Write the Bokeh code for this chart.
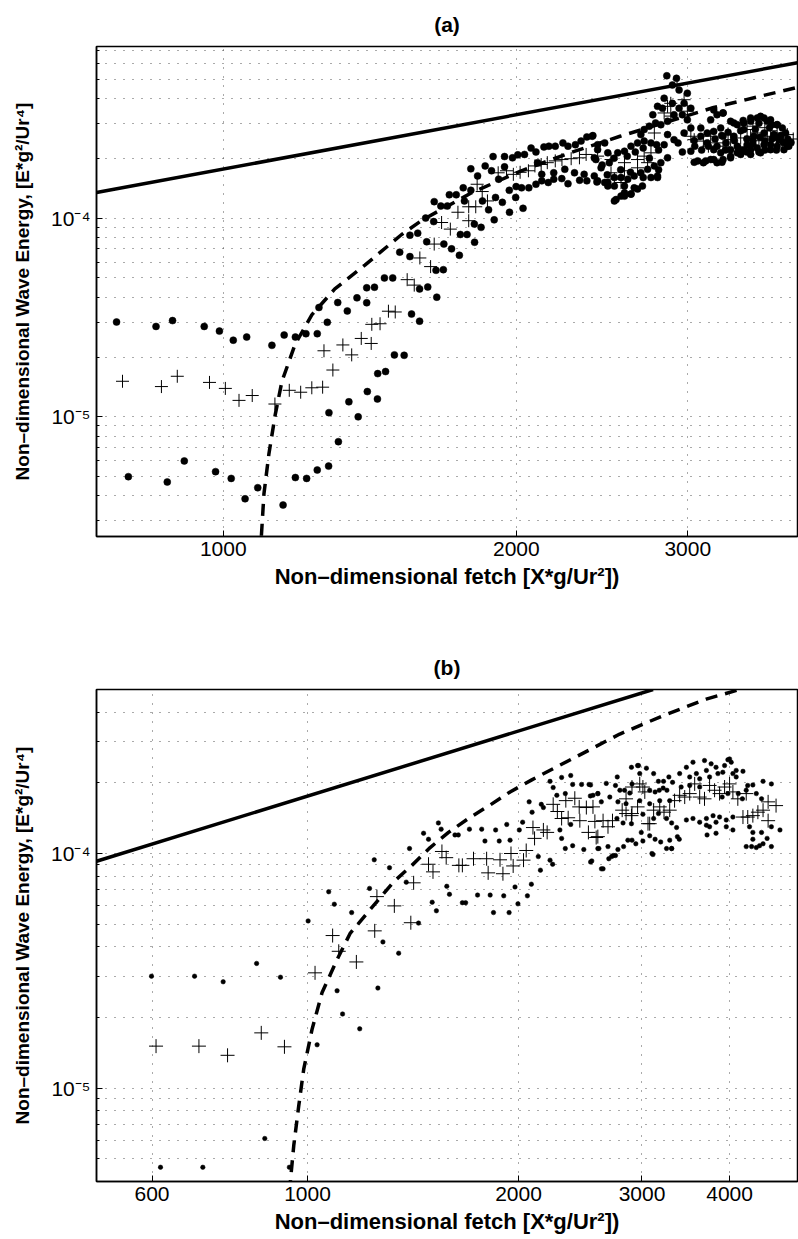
from bokeh.plotting import figure
from bokeh.layouts import column
from bokeh.models import FixedTicker
from bokeh.embed import file_html
from bokeh.resources import INLINE

# ---------------- Panel (a) data ----------------
a_dot_x = [777, 853, 887, 956, 991, 1024, 1057, 1122, 1155, 1186, 1216, 1249, 1254, 1279, 1311, 1341, 1372, 1404, 1404, 1430,
           799, 876, 912, 982, 1019, 1053, 1085, 1152, 1186, 1218, 1249, 1283, 1313, 1284, 1346, 1376, 1406, 1440, 1441, 1468, 1499, 1534,
           1893, 1945, 1982, 2007, 2039, 2071, 2095, 2135, 2160, 2193, 2233, 2260, 2300, 2331, 2363, 2393, 2424,
           1796, 1858, 1886, 1945, 1825, 1918,
           1764, 1796, 1846, 1873, 1904, 1935, 1967, 1999, 2025, 2060, 2095, 2124, 2157, 2185, 2227, 2260, 2323, 2363, 2420,
           2103, 2124, 2185, 2243, 2295, 2348, 2405,
           1647, 1673, 1699, 1707, 1735, 1769,
           1752, 1780, 1811, 1840, 1812, 1898, 1968, 2032, 1997,
           1518, 1555, 1555, 1584, 1614, 1645, 1618, 1685, 1716, 1748, 1654, 1683, 1464, 1493, 1591, 1622, 1657, 1561, 1591,
           2397, 2465, 2424, 2483, 2414, 2444, 2405, 2492, 2542, 2583, 2623, 2664, 2706, 2750, 2787, 2860, 2815, 2772, 2728, 2685,
           2643, 2603, 2562, 2522, 2483, 2424, 2522, 2583, 2643, 2695, 2750, 2793, 2532, 2583, 2623, 2664,
           2855, 2921, 2893, 2939, 2997, 2837, 2793, 2762, 2826, 2893, 2939, 2974, 3022, 2780, 2739, 2706, 2685, 2815, 2860, 2904,
           2962, 2997, 3022, 2974, 2904, 2860, 2837, 2932, 3046, 3094, 3141, 3190, 3243, 3094, 3167, 3215, 3261, 3320, 3373, 3425,
           3481, 3536, 3593, 3649, 3706, 3752, 3781, 3810, 3766, 3706, 3649, 3593, 3536, 3481, 3425, 3373, 3320, 3261, 3215, 3167,
           3130, 3071, 3022, 2962, 3141, 3215, 3285, 3346, 3425, 3508, 3593, 3678, 3722, 3373, 3452, 3261, 3190, 3243, 3320,
           2522, 2562, 2623, 3046, 3113, 3190, 3253, 3320, 3400, 3481, 3564, 3649, 3796, 3736,
           3481, 3564, 3620, 3706, 3346, 3261, 3190, 2465, 2483, 2583, 2793,
           3300, 3350, 3400, 3450, 3500, 3520, 3560, 3600, 3640, 3660, 3700, 3740, 3760, 3800, 3830, 3420, 3550, 3660, 3200, 3250,
           3150, 3100, 3050, 3280, 3380, 3500, 3600, 3700, 3450, 3550,
           2450, 2520, 2600, 2650, 2700, 2560, 2620, 2480, 2700, 2800, 2740, 2800]
a_dot_e = [3.0e-5, 2.85e-5, 3.05e-5, 2.85e-5, 2.70e-5, 2.43e-5, 2.52e-5, 2.29e-5, 2.58e-5, 2.52e-5, 2.62e-5, 2.62e-5, 3.55e-5, 2.99e-5, 3.76e-5, 3.41e-5, 3.97e-5, 3.75e-5, 4.46e-5, 4.49e-5,
           5.0e-6, 4.7e-6, 6.0e-6, 5.3e-6, 4.9e-6, 3.87e-6, 4.4e-6, 3.6e-6, 4.95e-6, 4.9e-6, 5.4e-6, 5.65e-6, 7.5e-6, 1.05e-5, 1.19e-5, 1.0e-5, 1.34e-5, 1.23e-5, 1.65e-5, 1.69e-5, 2.05e-5, 2.04e-5,
           2.04e-4, 2.04e-4, 2.01e-4, 2.08e-4, 2.09e-4, 2.25e-4, 2.15e-4, 2.28e-4, 2.30e-4, 2.30e-4, 2.39e-4, 2.30e-4, 2.34e-4, 2.44e-4, 2.56e-4, 2.58e-4, 2.34e-4,
           1.77e-4, 1.83e-4, 1.73e-4, 1.81e-4, 1.63e-4, 1.57e-4,
           1.42e-4, 1.38e-4, 1.22e-4, 1.10e-4, 1.27e-4, 1.20e-4, 1.38e-4, 1.44e-4, 1.42e-4, 1.42e-4, 1.48e-4, 1.54e-4, 1.51e-4, 1.57e-4, 1.58e-4, 1.49e-4, 1.55e-4, 1.54e-4, 1.52e-4,
           1.90e-4, 1.66e-4, 1.69e-4, 1.76e-4, 1.69e-4, 1.66e-4, 2.01e-4,
           1.21e-4, 1.15e-4, 1.15e-4, 1.31e-4, 1.31e-4, 1.22e-4,
           8.27e-5, 8.27e-5, 9.33e-5, 8.98e-5, 7.56e-5, 9.8e-5, 1.07e-4, 1.12e-4, 1.27e-4,
           6.74e-5, 6.4e-5, 8.2e-5, 8.4e-5, 1.0e-4, 9.6e-5, 7.6e-5, 7.4e-5, 7.0e-5, 6.5e-5, 5.46e-5, 5.5e-5, 5.0e-5, 5.0e-5, 4.4e-5, 4.5e-5, 4.0e-5, 3.29e-5, 3.03e-5,
           2.60e-4, 2.39e-4, 2.21e-4, 2.13e-4, 1.97e-4, 1.79e-4, 1.63e-4, 1.90e-4, 2.13e-4, 2.17e-4, 2.30e-4, 2.39e-4, 2.44e-4, 2.39e-4, 2.34e-4, 2.01e-4, 1.90e-4, 1.83e-4, 1.76e-4, 1.69e-4,
           1.63e-4, 1.57e-4, 1.60e-4, 1.60e-4, 1.51e-4, 1.54e-4, 1.45e-4, 1.45e-4, 1.42e-4, 1.45e-4, 1.60e-4, 1.60e-4, 1.24e-4, 1.29e-4, 1.32e-4, 1.40e-4,
           5.2e-4, 5.05e-4, 4.67e-4, 4.41e-4, 4.25e-4, 4.01e-4, 3.65e-4, 3.31e-4, 3.57e-4, 3.78e-4, 3.57e-4, 3.78e-4, 3.57e-4, 3.01e-4, 2.9e-4, 2.79e-4, 2.63e-4, 2.95e-4, 3.07e-4, 3.31e-4,
           3.31e-4, 3.12e-4, 2.84e-4, 2.68e-4, 2.48e-4, 2.63e-4, 2.34e-4, 2.39e-4, 2.46e-4, 2.58e-4, 2.68e-4, 2.73e-4, 2.84e-4, 2.84e-4, 3.12e-4, 3.31e-4, 3.38e-4, 3.07e-4, 2.95e-4, 3.01e-4,
           3.07e-4, 3.19e-4, 3.19e-4, 3.12e-4, 2.95e-4, 2.84e-4, 2.68e-4, 2.30e-4, 2.21e-4, 2.30e-4, 2.34e-4, 2.34e-4, 2.25e-4, 2.21e-4, 2.21e-4, 2.13e-4, 2.01e-4, 1.97e-4, 1.90e-4, 1.97e-4,
           1.94e-4, 1.94e-4, 2.17e-4, 2.15e-4, 2.39e-4, 2.30e-4, 2.39e-4, 2.58e-4, 2.79e-4, 2.58e-4, 2.68e-4, 2.63e-4, 2.48e-4, 2.30e-4, 2.34e-4, 2.58e-4, 2.21e-4, 2.13e-4, 2.21e-4,
           1.22e-4, 1.29e-4, 1.32e-4, 1.91e-4, 1.90e-4, 1.97e-4, 1.91e-4, 2.05e-4, 2.09e-4, 2.09e-4, 2.13e-4, 2.21e-4, 2.30e-4, 2.48e-4,
           3.19e-4, 3.25e-4, 3.07e-4, 2.95e-4, 3.01e-4, 3.38e-4, 3.5e-4, 1.51e-4, 1.45e-4, 1.34e-4, 1.63e-4,
           2.7e-4, 2.45e-4, 2.75e-4, 2.5e-4, 2.45e-4, 2.8e-4, 2.55e-4, 2.45e-4, 2.85e-4, 2.5e-4, 2.55e-4, 2.6e-4, 2.4e-4, 2.5e-4, 2.4e-4, 3.1e-4, 3.0e-4, 2.95e-4, 2.5e-4, 2.6e-4,
           2.3e-4, 2.2e-4, 2.3e-4, 2.2e-4, 2.25e-4, 2.35e-4, 2.2e-4, 2.2e-4, 2.15e-4, 2.15e-4,
           1.85e-4, 2.0e-4, 2.05e-4, 2.15e-4, 2.25e-4, 1.75e-4, 1.7e-4, 1.65e-4, 1.6e-4, 1.75e-4, 2.0e-4, 2.2e-4]

a_plus_x = [788, 864, 897, 968, 1005, 1038, 1071, 1130, 1169, 1201, 1233, 1265, 1296, 1269, 1327, 1355, 1386, 1419, 1421, 1449, 1478, 1502,
            1823, 1845, 1868, 1916, 1954, 1986, 2018, 2058, 2090, 2121, 2152, 2193, 2228, 2277, 2322, 2359, 1742, 1787, 1817, 1676, 1711,
            1787, 1647, 1592, 1633, 1545, 1571,
            2424, 2502, 2583, 2664, 2706, 2750, 2502, 2583, 2664, 2728, 2860, 2882, 2997, 3022, 3113, 3215, 3320, 3400, 3481, 3536,
            3621, 3706, 3796, 3452, 3167, 3261, 2522, 2562, 2772, 2837, 2882, 2925, 2974, 3046,
            3150, 3300, 3550, 3650, 3750, 3850, 3600, 3500]
a_plus_e = [1.51e-5, 1.42e-5, 1.6e-5, 1.49e-5, 1.39e-5, 1.21e-5, 1.28e-5, 1.16e-5, 1.36e-5, 1.33e-5, 1.40e-5, 1.41e-5, 1.72e-5, 2.15e-5, 2.3e-5, 2.05e-5, 2.48e-5, 2.34e-5, 2.92e-5, 2.94e-5, 3.4e-5, 3.37e-5,
            1.48e-4, 1.36e-4, 1.22e-4, 1.69e-4, 1.73e-4, 1.66e-4, 1.70e-4, 1.73e-4, 1.83e-4, 1.86e-4, 1.90e-4, 1.94e-4, 1.97e-4, 1.99e-4, 2.01e-4, 2.09e-4, 1.07e-4, 1.14e-4, 1.14e-4, 9.5e-5, 8.8e-5,
            9.7e-5, 7.4e-5, 6.3e-5, 5.7e-5, 4.9e-5, 4.6e-5,
            2.05e-4, 1.97e-4, 1.90e-4, 1.97e-4, 2.05e-4, 2.13e-4, 1.69e-4, 1.73e-4, 1.79e-4, 1.90e-4, 3.65e-4, 3.26e-4, 3.45e-4, 2.58e-4, 2.44e-4, 2.39e-4, 2.48e-4, 2.53e-4, 2.58e-4, 2.68e-4,
            2.58e-4, 2.68e-4, 2.63e-4, 2.79e-4, 2.58e-4, 2.30e-4, 1.57e-4, 1.51e-4, 2.68e-4, 3.38e-4, 3.78e-4, 4.67e-4, 3.94e-4, 2.48e-4,
            2.30e-4, 2.65e-4, 2.45e-4, 2.75e-4, 2.40e-4, 2.50e-4, 2.85e-4, 2.90e-4]

a_solid_x = [741, 3889]
a_solid_e = [1.344e-4, 6.05e-4]
a_dash_x = [1082, 1101, 1114, 1131, 1149, 1185, 1233, 1302, 1398, 1525, 1599, 1799, 2024, 2277, 2556, 3190, 3589, 3890]
a_dash_e = [1.0e-6, 4.09e-6, 6.5e-6, 1.03e-5, 1.51e-5, 2.31e-5, 3.26e-5, 4.4e-5, 5.8e-5, 8.27e-5, 9.74e-5, 1.34e-4, 1.73e-4, 2.14e-4, 2.58e-4, 3.6e-4, 4.14e-4, 4.55e-4]

a_xticks = [1000, 2000, 3000]
a_xlabels = ["1000", "2000", "3000"]
a_yticks = [1e-5, 1e-4]
a_ylabels = ["10\u207b\u2075", "10\u207b\u2074"]
a_yminor = [3e-6, 4e-6, 5e-6, 6e-6, 7e-6, 8e-6, 9e-6, 2e-5, 3e-5, 4e-5, 5e-5, 6e-5, 7e-5, 8e-5, 9e-5,
            2e-4, 3e-4, 4e-4, 5e-4, 6e-4, 7e-4]

# ---------------- Panel (b) data ----------------
b_dot_x = [599, 690, 758, 846, 915, 617, 709, 869, 942, 1032, 1102, 1122, 1187, 1260, 1281, 1349,
           1002, 1072, 1092, 1156, 1226, 1245, 1309,
           1383, 1398, 1464, 1488, 1537, 1551, 1623, 1641, 1702, 1772, 1791, 1855, 1877, 1924, 1945, 2005, 2027, 2071, 2091, 2155,
           2170, 2218, 2241, 2304, 2374, 2389, 2460, 2521, 2532, 2595, 2332, 2268, 2374, 2291, 2304, 2332, 2389, 2478, 2595, 2544,
           2218, 2237, 2149, 2134, 1580, 1594, 1506, 1527, 1663, 1681, 1748, 1822, 1905, 1842, 1939, 1977, 1996, 2059, 2086, 1440,
           2898, 2966, 3044, 2978, 3117, 2766, 2668, 2750, 2534, 2790, 2833, 2903, 2882, 3077, 3132, 3166, 3220, 3175, 3216, 3256,
           3277, 3395, 3471, 3547, 3684, 3765, 3826, 3935, 3978, 4022, 4088, 4180, 3587, 3707, 3850, 3912, 4044, 3509, 3626, 3746,
           4088, 4246, 4318, 4465, 4589, 4367, 4443, 4172, 4225, 4116, 3978, 3904, 3626, 3509, 3412, 3317, 2554, 2595, 2625, 2699,
           2772, 2847, 2978, 3077, 3180, 3286, 2763, 2819, 2898, 3009, 3117, 3167, 3252, 3307, 3361, 3471, 3547, 3626, 3707, 3789,
           3871, 3957, 4044, 3707, 3746, 3826, 3715, 3826, 3957, 4044, 4271, 4318, 4443, 4589, 4720, 4525, 4318, 4225, 4300, 4367,
           4414, 4465, 4589, 3077, 3132, 3190, 3286, 3370, 3391, 3252, 3307, 2903, 2940, 2864, 2824, 2772, 3009, 2683, 2604, 3110,
           2715, 2750, 2640, 2534, 2993, 2957, 4000, 2626, 2730, 2690, 3100, 3307]
b_dot_e = [3.0e-5, 3.0e-5, 2.84e-5, 3.4e-5, 2.97e-5, 4.6e-6, 4.6e-6, 6.1e-6, 4.6e-6, 1.53e-5, 2.6e-5, 2.07e-5, 1.79e-5, 2.67e-5, 4.2e-5, 3.76e-5,
           5.16e-5, 6.87e-5, 6.08e-5, 5.6e-5, 7.1e-5, 9.4e-5, 8.7e-5,
           7.55e-5, 1.05e-4, 1.22e-4, 1.15e-4, 1.35e-4, 1.27e-4, 1.20e-4, 1.20e-4, 1.27e-4, 1.27e-4, 1.13e-4, 1.26e-4, 1.13e-4, 1.33e-4, 1.14e-4, 1.26e-4, 1.36e-4, 1.66e-4, 1.50e-4, 1.62e-4,
           1.57e-4, 2.03e-4, 1.91e-4, 2.11e-4, 2.15e-4, 1.97e-4, 1.97e-4, 1.97e-4, 1.76e-4, 1.80e-4, 1.80e-4, 1.77e-4, 1.33e-4, 1.26e-4, 1.16e-4, 1.05e-4, 1.08e-4, 1.04e-4, 1.05e-4, 9.3e-5,
           9.37e-5, 9.0e-5, 8.49e-5, 9.7e-5, 7.25e-5, 6.7e-5, 6.2e-5, 5.7e-5, 6.17e-5, 6.17e-5, 6.65e-5, 6.65e-5, 6.6e-5, 5.6e-5, 5.6e-5, 7.2e-5, 6.1e-5, 6.6e-5, 7.4e-5, 5.05e-5,
           2.33e-4, 2.37e-4, 2.31e-4, 2.19e-4, 2.19e-4, 2.12e-4, 1.99e-4, 1.95e-4, 1.96e-4, 1.86e-4, 1.86e-4, 1.98e-4, 1.81e-4, 1.86e-4, 1.83e-4, 2.03e-4, 2.03e-4, 1.86e-4, 1.9e-4, 1.86e-4,
           2.12e-4, 2.19e-4, 2.33e-4, 2.45e-4, 2.49e-4, 2.41e-4, 2.33e-4, 2.37e-4, 2.51e-4, 2.45e-4, 2.26e-4, 2.24e-4, 2.19e-4, 2.26e-4, 2.19e-4, 2.22e-4, 2.19e-4, 2.12e-4, 2.08e-4, 2.12e-4,
           2.12e-4, 1.95e-4, 1.96e-4, 2.03e-4, 1.98e-4, 1.80e-4, 1.71e-4, 1.71e-4, 1.86e-4, 1.80e-4, 1.80e-4, 1.74e-4, 1.92e-4, 1.95e-4, 1.92e-4, 2.01e-4, 1.77e-4, 1.80e-4, 1.66e-4, 1.74e-4,
           1.66e-4, 1.63e-4, 1.68e-4, 1.63e-4, 1.68e-4, 1.68e-4, 1.41e-4, 1.35e-4, 1.34e-4, 1.47e-4, 1.41e-4, 1.48e-4, 1.41e-4, 1.35e-4, 1.29e-4, 1.39e-4, 1.41e-4, 1.36e-4, 1.41e-4, 1.45e-4,
           1.43e-4, 1.39e-4, 1.43e-4, 1.32e-4, 1.30e-4, 1.36e-4, 1.20e-4, 1.22e-4, 1.30e-4, 1.26e-4, 1.30e-4, 1.23e-4, 1.23e-4, 1.30e-4, 1.26e-4, 1.16e-4, 1.15e-4, 1.07e-4, 1.07e-4, 1.06e-4,
           1.08e-4, 1.10e-4, 1.07e-4, 1.19e-4, 1.15e-4, 1.12e-4, 1.14e-4, 1.18e-4, 1.15e-4, 1.05e-4, 1.05e-4, 1.14e-4, 1.10e-4, 1.14e-4, 1.07e-4, 1.04e-4, 1.13e-4, 1.07e-4, 1.05e-4, 9.9e-5,
           9.7e-5, 9.8e-5, 8.6e-5, 9.2e-5, 1.23e-4, 2.37e-4, 2.53e-4, 8.6e-5, 9.8e-5, 9.5e-5, 1.0e-4, 1.05e-4]

b_plus_x = [608, 700, 769, 859, 927, 1025, 1086, 1108, 1174, 1247, 1256, 1330,
            1417, 1404, 1488, 1510, 1555, 1577, 1644, 1663, 1725, 1801, 1882, 1810, 1900, 1951, 1965, 2033, 2051, 2097, 2108, 2170,
            2197, 2241, 2272, 2304, 2354, 2336, 2406, 2446, 2441, 2499, 2570, 2516, 2581,
            2554, 2640, 2683, 2595, 2723, 2811, 2847, 2898, 2957, 3009, 3060, 3117, 3180, 3225, 3286, 3339, 3395, 3452, 3509, 3567,
            3626, 3684, 3746, 3808, 3871, 3935, 4000, 4044, 4110, 4180, 4246, 4318, 4390, 4465, 4540, 4540, 4660, 4225,
            2903, 2978, 3028, 3077, 2847, 2903]
b_plus_e = [1.51e-5, 1.51e-5, 1.38e-5, 1.72e-5, 1.50e-5, 3.1e-5, 4.47e-5, 3.83e-5, 3.45e-5, 4.68e-5, 6.55e-5, 5.98e-5,
            7.5e-5, 5.07e-5, 9.0e-5, 8.35e-5, 1.02e-4, 9.6e-5, 8.9e-5, 8.9e-5, 9.5e-5, 9.5e-5, 9.4e-5, 8.27e-5, 8.2e-5, 1.0e-4, 8.85e-5, 9.37e-5, 1.03e-4, 1.29e-4, 1.16e-4, 1.26e-4,
            1.23e-4, 1.62e-4, 1.51e-4, 1.41e-4, 1.42e-4, 1.68e-4, 1.72e-4, 1.38e-4, 1.58e-4, 1.57e-4, 1.37e-4, 1.23e-4, 1.17e-4,
            1.58e-4, 1.38e-4, 1.30e-4, 1.18e-4, 1.38e-4, 1.53e-4, 1.71e-4, 1.45e-4, 1.58e-4, 1.92e-4, 1.34e-4, 1.53e-4, 1.58e-4, 1.50e-4, 1.53e-4, 1.68e-4, 1.77e-4, 1.74e-4, 1.80e-4, 1.98e-4,
            1.74e-4, 1.71e-4, 1.95e-4, 1.86e-4, 1.80e-4, 1.92e-4, 1.98e-4, 1.83e-4, 1.71e-4, 1.43e-4, 1.43e-4, 1.45e-4, 1.50e-4, 1.53e-4, 1.38e-4, 1.66e-4, 1.60e-4, 1.80e-4,
            1.92e-4, 1.98e-4, 1.83e-4, 1.34e-4, 1.48e-4, 1.48e-4]

b_solid_x = [500, 3111]
b_solid_e = [9.27e-5, 5.0e-4]
b_dash_x = [940, 945.5, 955.8, 971.6, 987.6, 1015, 1049, 1102, 1151, 1327, 1409, 1496, 1589, 1696, 1822, 1945, 2089, 2254,
            2421, 2789, 3211, 3705, 4118]
b_dash_e = [2.0e-6, 4.04e-6, 5.69e-6, 8.41e-6, 1.204e-5, 1.78e-5, 2.555e-5, 3.53e-5, 4.58e-5, 7.58e-5, 8.9e-5, 1.06e-4, 1.23e-4,
            1.41e-4, 1.61e-4, 1.83e-4, 2.06e-4, 2.32e-4, 2.59e-4, 3.23e-4, 3.86e-4, 4.55e-4, 4.98e-4]

b_xticks = [600, 1000, 2000, 3000, 4000]
b_xlabels = ["600", "1000", "2000", "3000", "4000"]
b_yticks = [1e-5, 1e-4]
b_ylabels = ["10\u207b\u2075", "10\u207b\u2074"]
b_yminor = [4e-6, 5e-6, 6e-6, 7e-6, 8e-6, 9e-6, 2e-5, 3e-5, 4e-5, 5e-5, 6e-5, 7e-5, 8e-5, 9e-5,
            2e-4, 3e-4, 4e-4, 5e-4]

XLABEL = "Non\u2013dimensional fetch [X*g/Ur\u00b2])"
YLABEL = "Non\u2013dimensional Wave Energy, [E*g\u00b2/Ur\u2074]"
FONT = "Liberation Sans"
GRID_C = "#555555"


def make_panel(title, xr, yr, w, h, mb, xt, xl, yt, yl, ym,
               dx, de, px, pe, sx, se, ddx, dde, dot_size, plus_size):
    p = figure(width=w, height=h, x_axis_type="log", y_axis_type="log",
               x_range=xr, y_range=yr, output_backend="svg", toolbar_location=None,
               title=title, min_border_left=mb[0], min_border_right=mb[1],
               min_border_top=mb[2], min_border_bottom=mb[3])
    p.title.align = "center"
    p.title.text_font = FONT
    p.title.text_font_style = "bold"
    p.title.text_font_size = "21px"
    p.title.text_color = "black"
    p.title.standoff = 21

    p.xaxis.ticker = FixedTicker(ticks=xt, minor_ticks=[])
    p.xaxis.major_label_overrides = {t: s for t, s in zip(xt, xl)}
    p.yaxis.ticker = FixedTicker(ticks=yt, minor_ticks=ym)
    p.yaxis.major_label_overrides = {t: s for t, s in zip(yt, yl)}

    for ax in (p.xaxis, p.yaxis):
        ax.major_label_text_font = FONT
        ax.major_label_text_font_size = "21px"
        ax.major_label_text_color = "black"
        ax.axis_label_text_font = FONT
        ax.axis_label_text_font_style = "bold"
        ax.axis_label_text_color = "black"
        ax.axis_line_color = "black"
        ax.axis_line_width = 1.5
        ax.major_tick_in = 6
        ax.major_tick_out = 0
        ax.minor_tick_in = 3
        ax.minor_tick_out = 0
        ax.major_tick_line_color = "black"
        ax.minor_tick_line_color = "black"
    p.xaxis.axis_label = XLABEL
    p.yaxis.axis_label = YLABEL
    p.xaxis.axis_label_text_font_size = "22px"
    p.yaxis.axis_label_text_font_size = "19px"
    p.xaxis.major_label_standoff = 5
    p.xaxis.axis_label_standoff = 5
    p.yaxis.major_label_standoff = 6
    p.yaxis.axis_label_standoff = 15

    p.xgrid.grid_line_color = GRID_C
    p.xgrid.grid_line_dash = "1 8"
    p.ygrid.grid_line_color = GRID_C
    p.ygrid.grid_line_dash = "1 8"
    p.ygrid.minor_grid_line_color = GRID_C
    p.ygrid.minor_grid_line_dash = "1 8"

    p.outline_line_color = "black"
    p.outline_line_width = 1.5
    p.background_fill_color = "white"
    p.border_fill_color = "white"

    p.line(sx, se, line_color="black", line_width=3.5)
    p.line(ddx, dde, line_color="black", line_width=3.5, line_dash="12 8")
    p.scatter(dx, de, marker="circle", size=dot_size, fill_color="black", line_color="black", line_width=0.5)
    p.scatter(px, pe, marker="cross", size=plus_size, line_color="black", line_width=1)
    return p


pa = make_panel("(a)", (741, 3889), (2.5e-6, 7.3e-4), 798, 617, (94, 1, 43, 81),
                a_xticks, a_xlabels, a_yticks, a_ylabels, a_yminor,
                a_dot_x, a_dot_e, a_plus_x, a_plus_e, a_solid_x, a_solid_e, a_dash_x, a_dash_e, 7, 13)
pb = make_panel("(b)", (500, 5000), (4e-6, 5e-4), 798, 622, (96, 0, 72, 58),
                b_xticks, b_xlabels, b_yticks, b_ylabels, b_yminor,
                b_dot_x, b_dot_e, b_plus_x, b_plus_e, b_solid_x, b_solid_e, b_dash_x, b_dash_e, 4.5, 14)

layout = column(pa, pb, spacing=0)
open("out.html", "w").write(file_html(layout, INLINE))
